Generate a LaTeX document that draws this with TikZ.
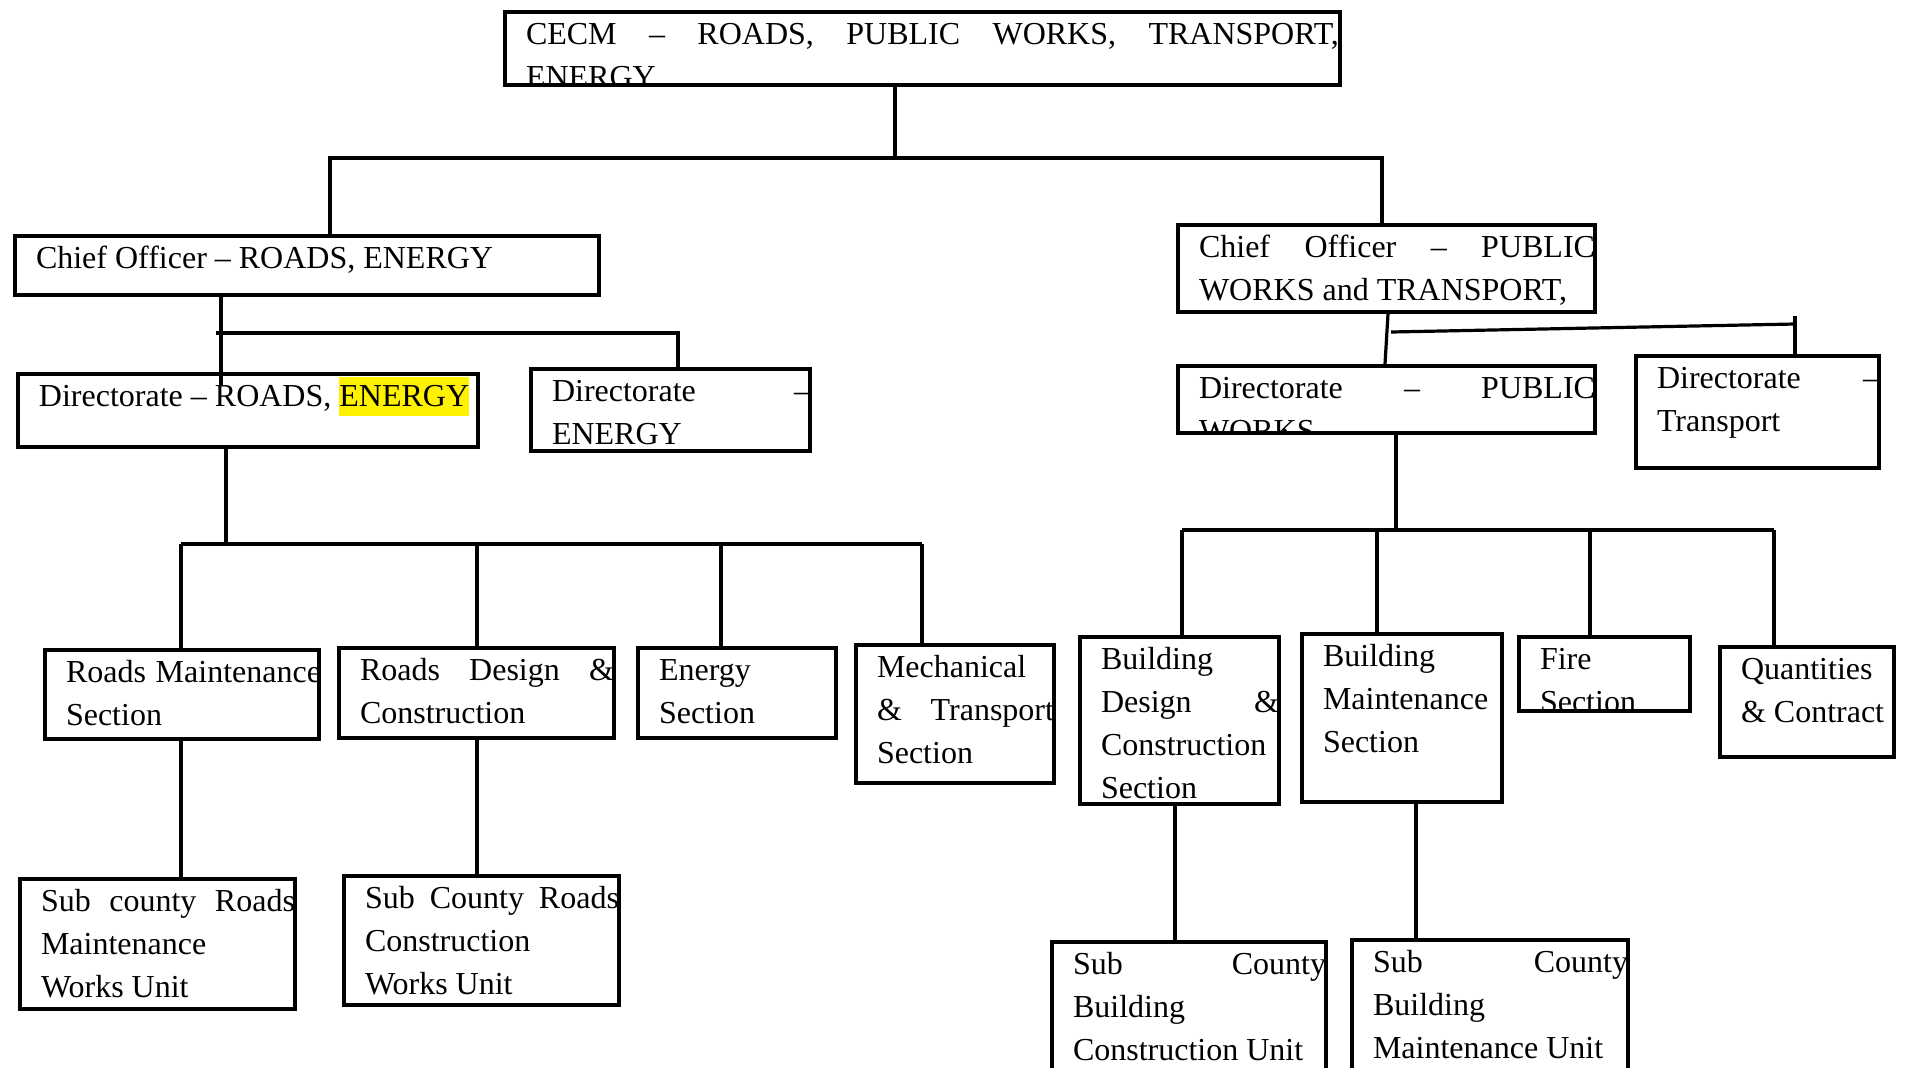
\documentclass[tikz,border=0pt]{standalone}
\usepackage{fontspec}
\setmainfont{Liberation Serif}
\usetikzlibrary{calc}
\hyphenpenalty=10000
\exhyphenpenalty=10000
\tolerance=10000
\setlength{\parindent}{0pt}
\newcommand\unitfont{\fontsize{16}{21.5}\selectfont}
\newcommand\hilite[1]{{\setlength{\fboxsep}{0pt}\colorbox{yellow}{\rule[-4.5pt]{0pt}{19.5pt}#1}}}
\tikzset{
        unit box/.style 2 args={draw, line width=2pt, anchor=north west, inner sep=0pt,
                minimum width=#1, minimum height=#2}, % the frame of one office
        unit text/.style 2 args={path picture={
                \node[draw=none, anchor=north west, inner sep=0pt, minimum width=0pt, minimum height=0pt,
                      xshift=9.5pt, yshift=-0.2pt, text width=#1, align=justify, font=\unitfont]
                      at (path picture bounding box.north west) {\strut #2};}}, % text is cut at the frame
        link/.style={line width=1.6pt}, % reporting lines
    }
\begin{document}
\begin{tikzpicture}[x=0.5pt, y=-0.5pt]
    \useasboundingbox (0,0) rectangle (1907,1067);
    % top
    \node [unit box={417.5pt}{36.5pt}, unit text={406.5pt}{CECM – ROADS, PUBLIC WORKS, TRANSPORT,\linebreak ENERGY}] (cecm) at (503,10) {};
    \node [unit box={292pt}{29.5pt}, unit text={281.5pt}{Chief Officer – ROADS, ENERGY}] (coRoads) at (13,234) {};
    \node [unit box={208.5pt}{43.5pt}, unit text={198pt}{Chief Officer – PUBLIC\linebreak WORKS and TRANSPORT,}] (coWorks) at (1176,223) {};
    % directorates
    \node [unit box={230pt}{36.5pt}, unit text={219.5pt}{Directorate – ROADS, \hilite{ENERGY}}] (dirRoads) at (16,372) {};
    \node [unit box={139.5pt}{41pt}, unit text={129pt}{Directorate –\linebreak ENERGY}] (dirEnergy) at (529,367) {};
    \node [unit box={208.5pt}{33.5pt}, unit text={198pt}{Directorate – PUBLIC\linebreak WORKS}] (dirWorks) at (1176,364) {};
    \node [unit box={121.5pt}{56pt}, unit text={111pt}{Directorate –\linebreak Transport}] (dirTransport) at (1634,354) {};
    % sections
    \node [unit box={137pt}{44.5pt}, unit text={127.5pt}{Roads Maintenance\linebreak Section}] (roadsMaint) at (43,648) {};
    \node [unit box={137.5pt}{45pt}, unit text={127pt}{Roads Design \&\linebreak Construction}] (roadsDesign) at (337,646) {};
    \node [unit box={99pt}{45pt}, unit text={88.5pt}{Energy\linebreak Section}] (energySec) at (636,646) {};
    \node [unit box={99pt}{69pt}, unit text={88.5pt}{Mechanical\linebreak \& Transport\linebreak Section}] (mechTrans) at (854,643) {};
    \node [unit box={99.5pt}{83.5pt}, unit text={89pt}{Building\linebreak Design \&\linebreak Construction\linebreak Section}] (bldDesign) at (1078,635) {};
    \node [unit box={100pt}{84pt}, unit text={89.5pt}{Building\linebreak Maintenance\linebreak Section}] (bldMaint) at (1300,632) {};
    \node [unit box={85.5pt}{37pt}, unit text={75pt}{Fire\linebreak Section}] (fireSec) at (1517,635) {};
    \node [unit box={87pt}{55pt}, unit text={76.5pt}{Quantities\linebreak \& Contract}] (quantities) at (1718,645) {};
    % works units
    \node [unit box={137.5pt}{65pt}, unit text={127pt}{Sub county Roads\linebreak Maintenance\linebreak Works Unit}] (subRoadsMaint) at (18,877) {};
    \node [unit box={137.5pt}{64.5pt}, unit text={127pt}{Sub County Roads\linebreak Construction\linebreak Works Unit}] (subRoadsCons) at (342,874) {};
    \node [unit box={137pt}{80pt}, unit text={126.5pt}{Sub County\linebreak Building\linebreak Construction Unit}] (subBldCons) at (1050,940) {};
    \node [unit box={138pt}{80pt}, unit text={127.5pt}{Sub County\linebreak Building\linebreak Maintenance Unit}] (subBldMaint) at (1350,938) {};

    % junctions
    \coordinate (topM) at (895,158);
    \coordinate (topL) at (330,158);
    \coordinate (topR) at (1382,158);
    \coordinate (roadsDrop) at (221,385);
    \coordinate (dirBusL) at (216,333);
    \coordinate (dirBusR) at (678,333);
    \coordinate (worksDrop) at (1385,364);
    \coordinate (worksBusL) at (1391,332);
    \coordinate (worksBusR) at (1795,324);
    \coordinate (transTick) at (1795,316);
    \coordinate (secMidL) at (226,544);
    \coordinate (secMidR) at (1396,530);

    \draw[link] (cecm.south -| topM) -- (topM);
    \draw[link] (coRoads.north -| topL) -- (topL) -- (topR) -- (coWorks.north -| topR);
    \draw[link] (coRoads.south -| roadsDrop) -- (roadsDrop);
    \draw[link] (dirBusL) -- (dirBusR) -- (dirEnergy.north -| dirBusR);
    \draw[link] ([xshift=1.5pt]coWorks.south -| worksDrop) -- (worksDrop);
    \draw[link] (worksBusL) -- (worksBusR);
    \draw[link] (transTick) -- (dirTransport.north -| transTick);
    \draw[link] (dirRoads.south -| secMidL) -- (secMidL);
    \draw[link] (dirWorks.south -| secMidR) -- (secMidR);
    \draw[link] (181,544) -- (922,544);
    \draw[link] (1182,530) -- (1774,530);
    \foreach \nm/\x in {roadsMaint/181, roadsDesign/477, energySec/721, mechTrans/922}
        \draw[link] (\x,544) -- (\nm.north -| \x,544);
    \foreach \nm/\x in {bldDesign/1182, bldMaint/1377, fireSec/1590, quantities/1774}
        \draw[link] (\x,530) -- (\nm.north -| \x,530);
    \foreach \up/\down/\x in {roadsMaint/subRoadsMaint/181, roadsDesign/subRoadsCons/477, bldDesign/subBldCons/1175, bldMaint/subBldMaint/1416}
        \draw[link] (\up.south -| \x,0) -- (\down.north -| \x,0);
\end{tikzpicture}
\end{document}
